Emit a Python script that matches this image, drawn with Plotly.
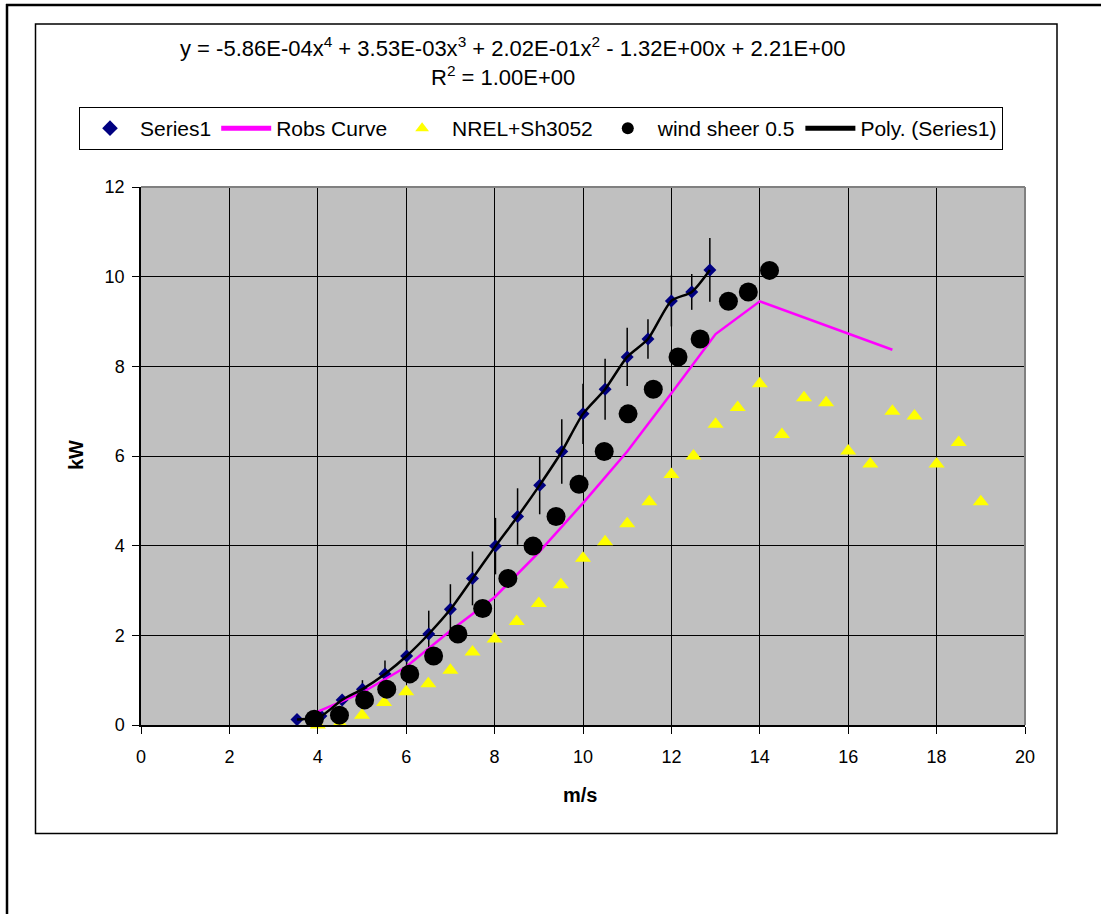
import plotly.graph_objects as go

# ---------------- data ----------------
s1_x = [3.53, 4.07, 4.55, 5.01, 5.52, 6.01, 6.51, 7.0, 7.5, 8.02, 8.52, 9.02, 9.52, 10.0, 10.5, 11.0, 11.47, 12.0, 12.46, 12.87]
s1_y = [0.12, 0.2, 0.56, 0.8, 1.14, 1.54, 2.03, 2.58, 3.27, 3.99, 4.65, 5.35, 6.1, 6.94, 7.49, 8.21, 8.61, 9.46, 9.66, 10.15]
s1_err = [0.0, 0.05, 0.11, 0.2, 0.3, 0.37, 0.52, 0.56, 0.6, 0.63, 0.63, 0.65, 0.72, 0.67, 0.68, 0.65, 0.44, 0.57, 0.4, 0.71]

robs_x = [4, 5, 6, 7, 8, 9, 10, 11, 12, 13, 14, 17]
robs_y = [0.3, 0.72, 1.3, 2.1, 2.85, 3.85, 4.95, 6.1, 7.4, 8.72, 9.45, 8.37]

nrel_x = [4, 4.5, 5, 5.5, 6, 6.5, 7, 7.5, 8, 8.5, 9, 9.5, 10, 10.5, 11, 11.5, 12, 12.5,
          13, 13.5, 14, 14.5, 15, 15.5, 16, 16.5, 17, 17.5, 18, 18.5, 19]
nrel_y = [0.0, 0.04, 0.22, 0.5, 0.74, 0.92, 1.22, 1.63, 1.92, 2.31, 2.71, 3.13, 3.72, 4.09, 4.49, 4.98, 5.59, 6.0,
          6.71, 7.08, 7.61, 6.48, 7.3, 7.19, 6.11, 5.82, 7.0, 6.89, 5.82, 6.3, 4.98]

ws_x = [3.92, 4.49, 5.06, 5.56, 6.08, 6.62, 7.17, 7.73, 8.3, 8.87, 9.39, 9.91, 10.48, 11.02, 11.59, 12.15, 12.65, 13.29, 13.74, 14.22]
ws_y = [0.13, 0.22, 0.56, 0.8, 1.14, 1.54, 2.03, 2.6, 3.27, 3.99, 4.65, 5.37, 6.1, 6.94, 7.49, 8.21, 8.61, 9.45, 9.66, 10.14]

x_ticks = [0, 2, 4, 6, 8, 10, 12, 14, 16, 18, 20]
y_ticks = [0, 2, 4, 6, 8, 10, 12]

equation = ("y = -5.86E-04x<sup>4</sup> + 3.53E-03x<sup>3</sup> + 2.02E-01x<sup>2</sup>"
            " - 1.32E+00x + 2.21E+00")
r2_text = "R<sup>2</sup> = 1.00E+00"

# ---------------- layout geometry (pixels) ----------------
W, H = 1101, 914
L, R, T, B = 141, 1025, 187, 725
PW, PH = R - L, B - T


def px(x):
    return (x - L) / PW


def py(y):
    return (B - y) / PH


FONT = "Liberation Sans, Arial, sans-serif"

fig = go.Figure()

fig.add_trace(go.Scatter(
    x=s1_x, y=s1_y, mode="markers", name="Series1",
    marker=dict(symbol="diamond", size=10, color="#000080"),
    error_y=dict(type="data", array=s1_err, visible=True, color="black", thickness=1.5, width=0),
))
fig.add_trace(go.Scatter(
    x=robs_x, y=robs_y, mode="lines", name="Robs Curve",
    line=dict(color="#FF00FF", width=2.5),
))
fig.add_trace(go.Scatter(
    x=nrel_x, y=nrel_y, mode="markers", name="NREL+Sh3052",
    marker=dict(symbol="triangle-up", size=14, color="#FFFF00"),
    cliponaxis=False,
))
fig.add_trace(go.Scatter(
    x=ws_x, y=ws_y, mode="markers", name="wind sheer 0.5",
    marker=dict(symbol="circle", size=19, color="black"),
))
fig.add_trace(go.Scatter(
    x=s1_x, y=s1_y, mode="lines", name="Poly. (Series1)",
    line=dict(color="black", width=2.5, shape="spline", smoothing=0.7),
))

shapes = [
    # outer frame lines
    dict(type="line", xref="paper", yref="paper", x0=px(6), x1=px(1101), y0=py(5), y1=py(5),
         line=dict(color="black", width=2.5)),
    dict(type="line", xref="paper", yref="paper", x0=px(7), x1=px(7), y0=py(4), y1=py(914),
         line=dict(color="black", width=2.5)),
    # chart area box
    dict(type="rect", xref="paper", yref="paper", x0=px(35.5), x1=px(1057), y0=py(833.5), y1=py(24),
         line=dict(color="black", width=1.5)),
    # plot area top/right border (gray)
    dict(type="line", xref="paper", yref="paper", x0=0, x1=1, y0=1, y1=1,
         line=dict(color="#808080", width=2)),
    dict(type="line", xref="paper", yref="paper", x0=1, x1=1, y0=0, y1=1,
         line=dict(color="#808080", width=2)),
]

annotations = [
    dict(text=equation, xref="paper", yref="paper", x=px(512), y=py(47), showarrow=False,
         xanchor="center", yanchor="middle", font=dict(family=FONT, size=22, color="black")),
    dict(text=r2_text, xref="paper", yref="paper", x=px(503), y=py(76), showarrow=False,
         xanchor="center", yanchor="middle", font=dict(family=FONT, size=22, color="black")),
    dict(text="<b>kW</b>", xref="paper", yref="paper", x=px(76), y=py(455), showarrow=False,
         textangle=-90, xanchor="center", yanchor="middle", font=dict(family=FONT, size=20, color="black")),
    dict(text="<b>m/s</b>", xref="paper", yref="paper", x=px(580), y=py(795), showarrow=False,
         xanchor="center", yanchor="middle", font=dict(family=FONT, size=20, color="black")),
]

fig.update_layout(
    width=W, height=H,
    margin=dict(l=L, r=W - R, t=T, b=H - B, pad=0),
    paper_bgcolor="white",
    plot_bgcolor="#C0C0C0",
    font=dict(family=FONT, size=18, color="black"),
    showlegend=True,
    legend=dict(
        orientation="h", x=px(79), y=py(107), xanchor="left", yanchor="top",
        bordercolor="black", borderwidth=1, bgcolor="white",
        font=dict(family=FONT, size=21, color="black"),
        itemsizing="constant", traceorder="normal",
        itemwidth=50,
    ),
    shapes=shapes,
    annotations=annotations,
    xaxis=dict(
        range=[0, 20], tickvals=x_ticks, ticktext=[str(v) for v in x_ticks],
        showgrid=True, gridcolor="black", gridwidth=1,
        zeroline=False, showline=True, linecolor="black", linewidth=1.5,
        ticks="outside", ticklen=7, tickcolor="black", tickwidth=1,
        ticklabelstandoff=8,
        tickfont=dict(family=FONT, size=18, color="black"),
    ),
    yaxis=dict(
        range=[0, 12], tickvals=y_ticks, ticktext=[str(v) for v in y_ticks],
        showgrid=True, gridcolor="black", gridwidth=1,
        zeroline=False, showline=True, linecolor="black", linewidth=1.5,
        ticks="outside", ticklen=7, tickcolor="black", tickwidth=1,
        ticklabelstandoff=4,
        tickfont=dict(family=FONT, size=18, color="black"),
    ),
)

fig.write_html("out.html", config={"displayModeBar": False},
               post_script="document.body.style.margin='0';document.body.style.overflow='hidden';")
